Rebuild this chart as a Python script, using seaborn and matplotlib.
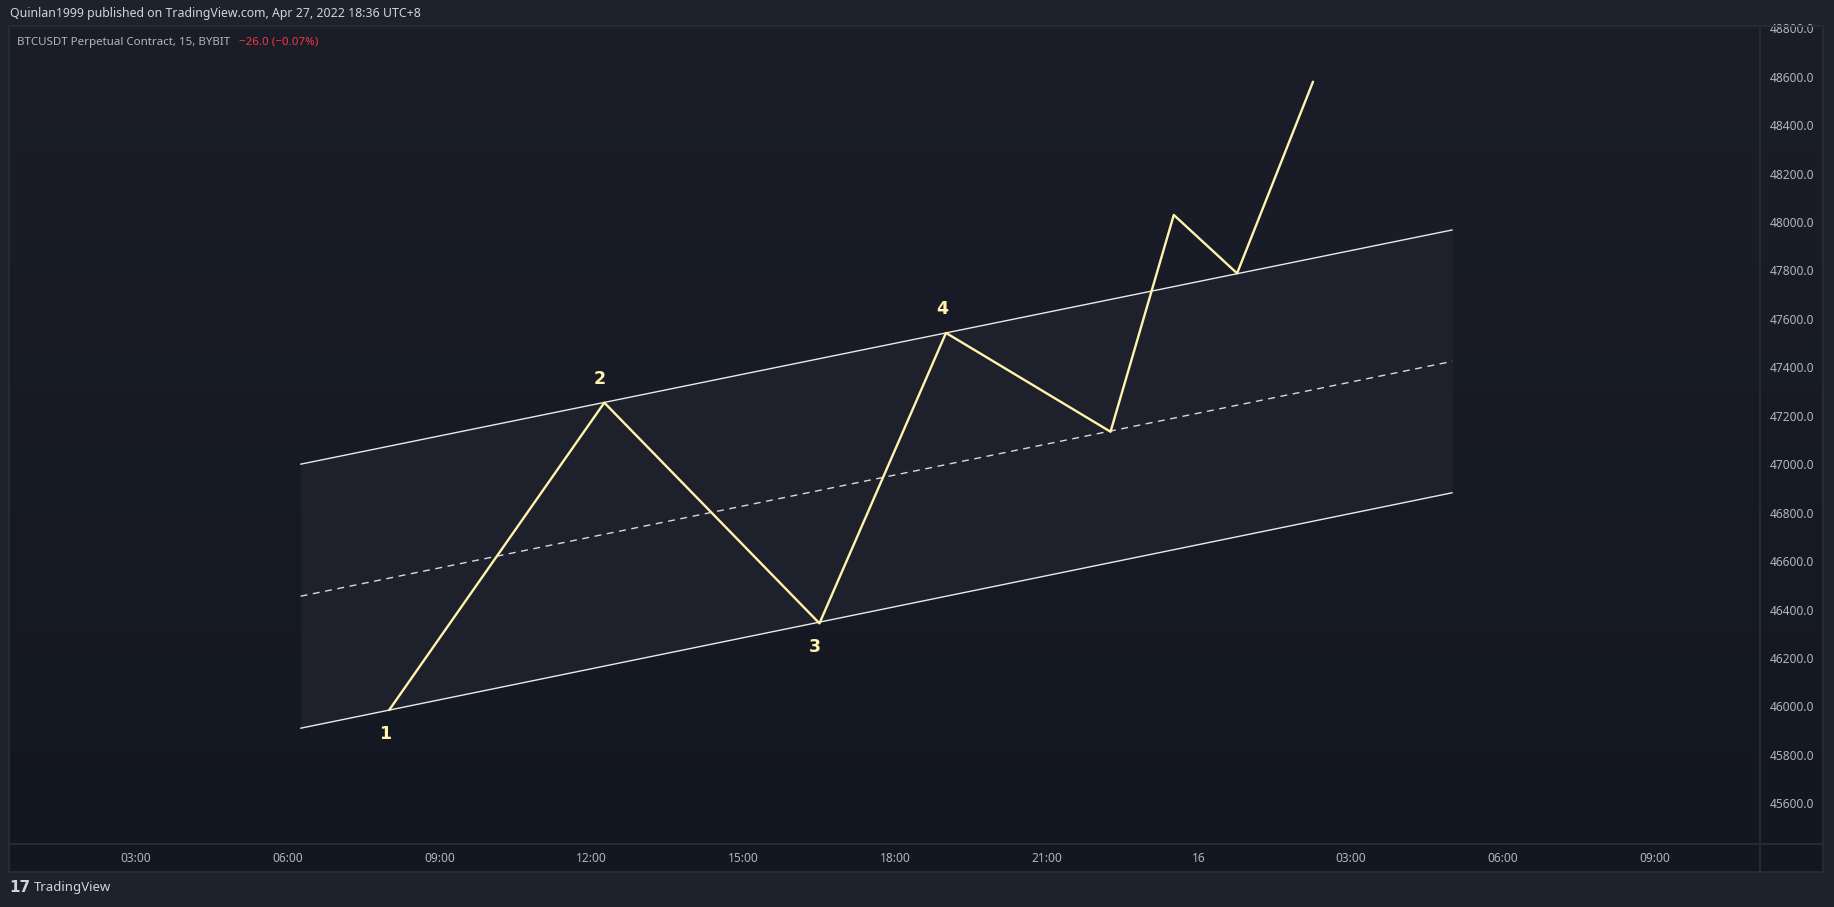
import matplotlib
matplotlib.use("Agg")
import matplotlib.pyplot as plt
import seaborn as sns
import numpy as np
import pandas as pd
from matplotlib.patches import Rectangle
from matplotlib.lines import Line2D

# time axis in hours counted from 00:00 of the 15th
wave_hours = [8.0, 12.25, 16.5, 19.0, 22.25, 23.5, 24.75, 26.25]
wave_price = [45985, 47254, 46343, 47542, 47134, 48029, 47788, 48579]
wave_labels = ["1", "2", "3", "4"]

channel_hours = [6.25, 29.0]
channel_upper = [47000, 47967]
channel_lower = [45910, 46882]
channel_mid = [(u + l) / 2 for u, l in zip(channel_upper, channel_lower)]

price_ticks = [45600, 45800, 46000, 46200, 46400, 46600, 46800, 47000,
               47200, 47400, 47600, 47800, 48000, 48200, 48400, 48600, 48800]
time_ticks = [3, 6, 9, 12, 15, 18, 21, 24, 27, 30, 33]
time_labels = ["03:00", "06:00", "09:00", "12:00", "15:00", "18:00", "21:00",
               "16", "03:00", "06:00", "09:00"]

header = "Quinlan1999 published on TradingView.com, Apr 27, 2022 18:36 UTC+8"
symbol = "BTCUSDT Perpetual Contract, 15, BYBIT"
change = "\u221226.0 (\u22120.07%)"

sns.set_theme(style="dark")
plt.rcParams['font.family'] = ['Noto Sans', 'DejaVu Sans']

W, H = 1834, 907


def box(x0, y0, x1, y1):
    return [x0 / W, 1 - y1 / H, (x1 - x0) / W, (y1 - y0) / H]


fig = plt.figure(figsize=(W / 100, H / 100), dpi=100, facecolor='#1e222d')

# chart background with soft vertical gradient
bg = fig.add_axes(box(9, 26, 1823, 872))
grad = np.linspace(0, 1, 256).reshape(-1, 1)
top = np.array([0x1b, 0x1e, 0x29]) / 255
bot = np.array([0x13, 0x17, 0x22]) / 255
img = top + (bot - top) * grad[..., None]
bg.imshow(np.repeat(img, 2, axis=1), aspect='auto', extent=[0, 1, 0, 1])
bg.set_axis_off()

ax = fig.add_axes(box(9, 26, 1760, 844))
ax.patch.set_alpha(0)

# channel
ax.fill_between(channel_hours, channel_lower, channel_upper, color='#1e212b', zorder=1, lw=0)
chan = pd.DataFrame({'hour': channel_hours * 3,
                     'price': channel_upper + channel_lower + channel_mid,
                     'line': ['upper'] * 2 + ['lower'] * 2 + ['mid'] * 2})
sns.lineplot(data=chan[chan.line != 'mid'], x='hour', y='price', units='line',
             estimator=None, color='#e9eaee', lw=1.0, ax=ax, zorder=2)
sns.lineplot(data=chan[chan.line == 'mid'], x='hour', y='price',
             estimator=None, color='#d8d9de', lw=1.0, ls=(0, (5, 4)), ax=ax, zorder=2)

# wave path
wave = pd.DataFrame({'hour': wave_hours, 'price': wave_price})
sns.lineplot(data=wave, x='hour', y='price', sort=False, estimator=None,
             color='#fff3ad', lw=1.7, ax=ax, zorder=3)

for i, lab in enumerate(wave_labels):
    below = wave_price[i] < wave_price[i + 1]
    dy = -17 if below else 17
    ax.annotate(lab, (wave_hours[i], wave_price[i]), xytext=(-3, dy),
                textcoords='offset points', ha='center', va='center',
                color='#fff3ad', fontsize=12.5, fontweight='bold',
                family=['DejaVu Sans'])

ax.set_xlim(0.49, 35.08)
ax.set_ylim(45432, 48809)
ax.set_xlabel('')
ax.set_ylabel('')
ax.set_xticks(time_ticks)
ax.set_xticklabels(time_labels)
ax.set_yticks(price_ticks)
ax.set_yticklabels([f"{p:.1f}" for p in price_ticks])
ax.yaxis.tick_right()
ax.tick_params(axis='y', length=0, pad=7, labelcolor='#b2b5be', labelsize=8.6)
ax.tick_params(axis='x', length=0, pad=6, labelcolor='#b2b5be', labelsize=8.6)
for lbl in ax.get_yticklabels():
    lbl.set_horizontalalignment('left')
ax.grid(False)
for s in ax.spines.values():
    s.set_visible(False)

# frame and separators
edge = '#2a2e39'
fig.add_artist(Rectangle((9 / W, 1 - 872 / H), (1823 - 9) / W, (872 - 26) / H,
                         transform=fig.transFigure, fill=False, ec=edge, lw=1.2))
fig.add_artist(Line2D([1760 / W, 1760 / W], [1 - 26 / H, 1 - 872 / H],
                      transform=fig.transFigure, color=edge, lw=1.2))
fig.add_artist(Line2D([9 / W, 1823 / W], [1 - 844 / H, 1 - 844 / H],
                      transform=fig.transFigure, color=edge, lw=1.2))

# header texts
fig.text(10 / W, 1 - 14 / H, header, color='#d1d4dc', fontsize=8.9, va='center', ha='left')
fig.text(17 / W, 1 - 42 / H, symbol, color='#b2b5be', fontsize=8.3, va='center', ha='left')
fig.text(239 / W, 1 - 42 / H, change, color='#f23645', fontsize=8.3, va='center', ha='left')

# footer logo
fig.text(9 / W, 1 - 887 / H, "17", color='#d1d4dc', fontsize=11, fontweight='bold',
         family=['DejaVu Sans'], va='center', ha='left')
fig.text(34 / W, 1 - 887 / H, "TradingView", color='#d1d4dc', fontsize=9.5,
         va='center', ha='left')

fig.savefig('out.png', dpi=100, facecolor=fig.get_facecolor())
